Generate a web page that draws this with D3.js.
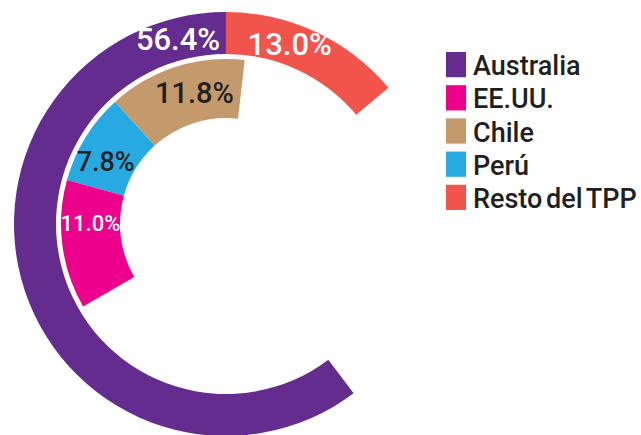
<!DOCTYPE html>
<html><head><meta charset="utf-8">
<script src="https://cdn.jsdelivr.net/npm/d3@7"></script>
<style>html,body{margin:0;padding:0;background:#fff;} svg{display:block;}</style>
</head><body>
<svg id="chart" width="641" height="435"></svg>
<script>
// ---- data ----
const categories = ["Australia", "EE.UU.", "Chile", "Perú", "Resto del TPP"];
const shares = [56.4, 11.0, 11.8, 7.8, 13.0];
const shareLabels = ["56.4%", "11.0%", "11.8%", "7.8%", "13.0%"];
const outerRing = ["Resto del TPP", "Australia"];
const innerRing = ["Chile", "Perú", "EE.UU."];

// ---- styles / layout ----
const colors = {"Australia":"#652c8f","EE.UU.":"#ec008c","Chile":"#c49a6c","Perú":"#27aae1","Resto del TPP":"#f0544a"};
const labelColors = {"Australia":"#fff","EE.UU.":"#fff","Chile":"#231f20","Perú":"#231f20","Resto del TPP":"#fff"};
const labelSize = {"Australia":31,"EE.UU.":22,"Chile":29,"Perú":27,"Resto del TPP":31};
const labelT = {"Australia":0.067,"EE.UU.":0.33,"Chile":0.41,"Perú":0.63,"Resto del TPP":0.61};
const cx = 226, cy = 224;
const deg = d => d * Math.PI / 180;
const rings = [
  {names: outerRing, r0: 170, r1: 212, range: [deg(50), deg(-217)]},
  {names: innerRing, r0: 106, r1: 165, range: [deg(6.5), deg(-120)]}
];
const font = "Roboto, 'Liberation Sans', Arial, sans-serif";

const svg = d3.select("#chart");
const g = svg.append("g").attr("transform", `translate(${cx},${cy})`);
const valueOf = name => shares[categories.indexOf(name)];

rings.forEach(ring => {
  const total = d3.sum(ring.names, valueOf);
  const scale = d3.scaleLinear().domain([0, total]).range(ring.range);
  const arc = d3.arc().innerRadius(ring.r0).outerRadius(ring.r1);
  let cum = 0;
  const segs = ring.names.map(n => {
    const v = valueOf(n);
    const s = {name: n, startAngle: scale(cum), endAngle: scale(cum + v)};
    cum += v;
    return s;
  });
  g.selectAll(null).data(segs).enter().append("path")
    .attr("d", arc)
    .attr("fill", d => colors[d.name]);
  const rm = (ring.r0 + ring.r1) / 2;
  const ang = d => d.startAngle + labelT[d.name] * (d.endAngle - d.startAngle);
  g.selectAll(null).data(segs).enter().append("text")
    .attr("x", d => rm * Math.sin(ang(d)))
    .attr("y", d => -rm * Math.cos(ang(d)))
    .attr("dy", "0.36em")
    .attr("text-anchor", "middle")
    .attr("font-family", font)
    .attr("font-weight", 500)
    .attr("font-size", d => labelSize[d.name])
    .attr("fill", d => labelColors[d.name])
    .text(d => shareLabels[categories.indexOf(d.name)]);
});

// ---- legend ----
const legendY = d3.scaleBand().domain(categories).range([52, 210]).paddingInner(0.24);
const leg = svg.append("g");
leg.selectAll("rect").data(categories).enter().append("rect")
  .attr("x", 446).attr("y", d => legendY(d))
  .attr("width", 20).attr("height", legendY.bandwidth())
  .attr("fill", d => colors[d]);
leg.selectAll("text").data(categories).enter().append("text")
  .attr("x", 473).attr("y", d => legendY(d) + legendY.bandwidth() - 2)
  .attr("font-family", font).attr("font-weight", 500).attr("font-size", 27)
  .attr("word-spacing", -3)
  .attr("fill", "#231f20")
  .text(d => d);
</script>
</body></html>
